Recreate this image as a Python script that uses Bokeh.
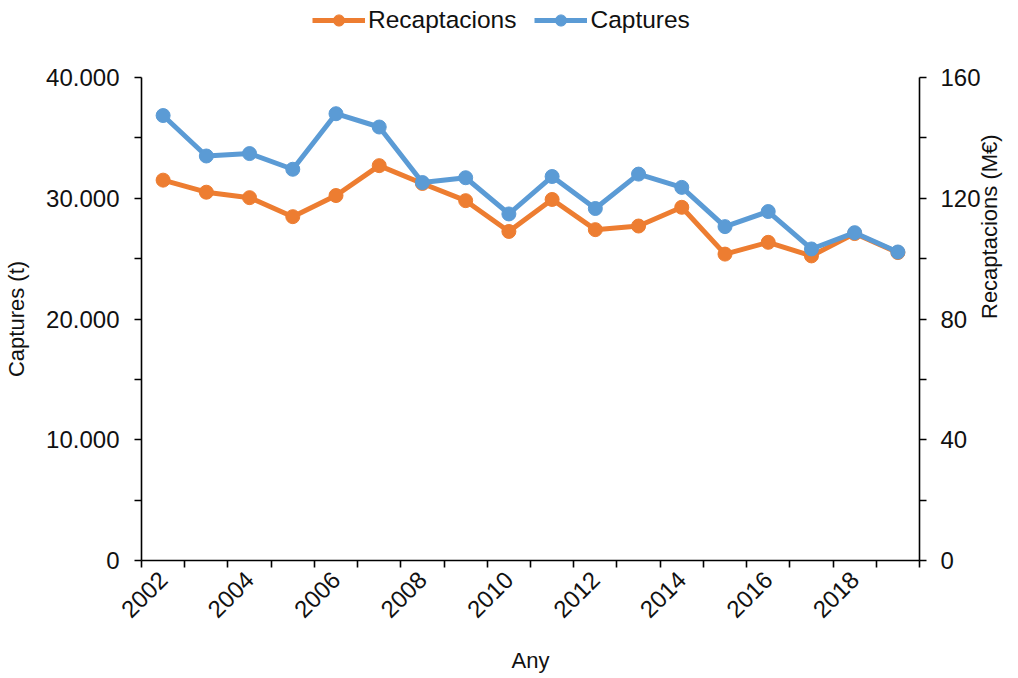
from bokeh.plotting import figure
from bokeh.models import Range1d, LinearAxis, FixedTicker, Legend, LegendItem
from bokeh.layouts import column
from bokeh.embed import file_html
from bokeh.resources import INLINE
from math import pi

# ---- data ----
years = ["2002", "2003", "2004", "2005", "2006", "2007", "2008", "2009", "2010",
         "2011", "2012", "2013", "2014", "2015", "2016", "2017", "2018", "2019"]
captures = [36850, 33500, 33700, 32400, 37000, 35900, 31300, 31700, 28700,
            31800, 29150, 32000, 30900, 27650, 28900, 25800, 27150, 25550]
recaptacions = [126.0, 122.0, 120.2, 113.9, 120.9, 130.8, 124.9, 119.2, 109.0,
                119.6, 109.6, 110.8, 117.0, 101.5, 105.4, 100.9, 108.3, 102.0]
left_ticks = [0, 10000, 20000, 30000, 40000]
left_labels = ["0", "10.000", "20.000", "30.000", "40.000"]
right_ticks = [0, 40, 80, 120, 160]
right_labels = ["0", "40", "80", "120", "160"]
shown_years = ["2002", "2004", "2006", "2008", "2010", "2012", "2014", "2016", "2018"]
series_names = ["Recaptacions", "Captures"]

ORANGE = "#ED7D31"
BLUE = "#5B9BD5"
FONT = "Liberation Sans"
TXT = "#111111"

n = len(years)
xs = [i + 0.5 for i in range(n)]

# ---------------- main chart ----------------
p = figure(width=1017, height=637,
           min_border_left=141, min_border_top=37, min_border_right=97, min_border_bottom=117,
           x_range=Range1d(0, n), y_range=Range1d(0, 40000),
           output_backend="svg", toolbar_location=None, x_axis_location=None, y_axis_location=None)
p.outline_line_color = None
p.xgrid.visible = False
p.ygrid.visible = False
p.extra_y_ranges = {"rec": Range1d(0, 160)}

def style_axis(ax):
    ax.axis_line_color = "#000000"
    ax.axis_line_width = 1.6
    ax.major_tick_line_color = "#000000"
    ax.major_tick_line_width = 1.6
    ax.minor_tick_line_color = "#000000"
    ax.minor_tick_line_width = 1.6
    ax.major_tick_in = 0
    ax.minor_tick_in = 0
    ax.major_tick_out = 7
    ax.minor_tick_out = 7
    ax.major_label_text_font = FONT
    ax.major_label_text_font_size = "24px"
    ax.major_label_text_color = TXT
    ax.axis_label_text_font = FONT
    ax.axis_label_text_font_size = "22px"
    ax.axis_label_text_font_style = "normal"
    ax.axis_label_text_color = TXT

yl = LinearAxis(axis_label="Captures (t)",
                ticker=FixedTicker(ticks=left_ticks,
                                   minor_ticks=[t + 5000 for t in left_ticks[:-1]]))
style_axis(yl)
yl.major_label_overrides = {t: l for t, l in zip(left_ticks, left_labels)}
yl.major_label_standoff = 15
yl.axis_label_standoff = 14
p.add_layout(yl, "left")

yr = LinearAxis(y_range_name="rec", axis_label="Recaptacions (M€)",
                ticker=FixedTicker(ticks=right_ticks,
                                   minor_ticks=[t + 20 for t in right_ticks[:-1]]))
style_axis(yr)
yr.major_label_overrides = {t: l for t, l in zip(right_ticks, right_labels)}
yr.major_label_standoff = 14
yr.axis_label_standoff = 6
yr.axis_label_orientation = pi / 2
yr.axis_label_text_align = "center"
yr.axis_label_text_baseline = "middle"
p.add_layout(yr, "right")

label_pos = [xs[years.index(y)] for y in shown_years]
xa = LinearAxis(axis_label="Any",
                ticker=FixedTicker(ticks=label_pos, minor_ticks=list(range(n + 1))))
style_axis(xa)
xa.major_tick_out = 0
xa.major_label_overrides = {x: y for x, y in zip(label_pos, shown_years)}
xa.major_label_orientation = pi / 4
xa.major_label_standoff = 8
xa.axis_label_standoff = 20
p.add_layout(xa, "below")

p.line(xs, recaptacions, y_range_name="rec", line_color=ORANGE, line_width=5)
p.scatter(xs, recaptacions, y_range_name="rec", marker="circle", size=14,
          fill_color=ORANGE, line_color=ORANGE)
p.line(xs, captures, line_color=BLUE, line_width=5)
p.scatter(xs, captures, marker="circle", size=14, fill_color=BLUE, line_color=BLUE)

# ---------------- legend strip on top ----------------
# the strip shows the same series, but its y range excludes them: only the legend is visible
pl = figure(width=1017, height=40, min_border=0, x_range=Range1d(0, n), y_range=Range1d(-2, -1),
            output_backend="svg", toolbar_location=None, x_axis_location=None, y_axis_location=None)
pl.outline_line_color = None
pl.xgrid.visible = False
pl.ygrid.visible = False
items = []
for name, col, vals in zip(series_names, [ORANGE, BLUE], [recaptacions, captures]):
    l = pl.line(xs, vals, line_color=col, line_width=5)
    s = pl.scatter(xs, vals, marker="circle", size=14, fill_color=col, line_color=col)
    items.append(LegendItem(label=name, renderers=[l, s]))
legend = Legend(items=items, orientation="horizontal", location=(171, 6),
                glyph_width=53, glyph_height=28, label_standoff=3, spacing=18,
                padding=0, margin=0, border_line_color=None, background_fill_alpha=0,
                label_text_font=FONT, label_text_font_size="24.5px", label_text_color=TXT)
pl.add_layout(legend, "center")

open("out.html", "w").write(file_html(column(pl, p, spacing=0), INLINE))
